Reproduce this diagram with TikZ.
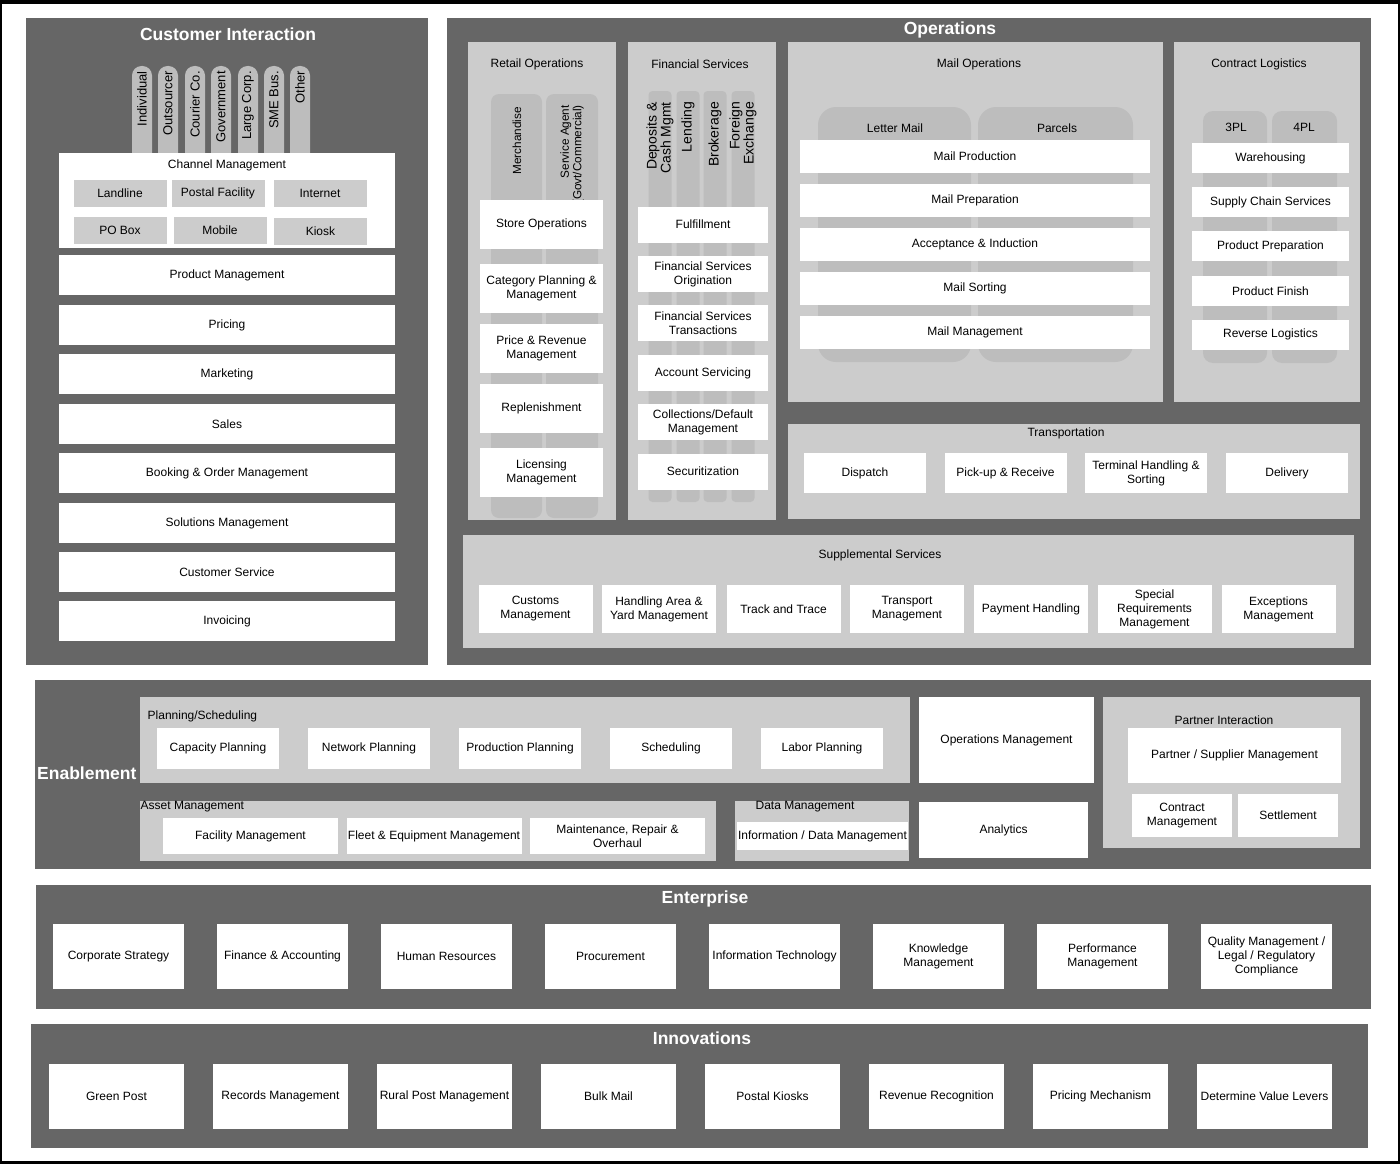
\documentclass[tikz,border=0pt]{standalone}
\usepackage{fontspec}
\setmainfont{Liberation Sans}
\definecolor{panelgray}{HTML}{666666}
\definecolor{subgray}{HTML}{CCCCCC}
\definecolor{lanegray}{HTML}{BDBDBD}
\tikzset{
  panel/.style={fill=panelgray},
  subpanel/.style={fill=subgray},
  lane/.style={fill=lanegray, rounded corners=#1},
  lane/.default=8pt,
  heading/.style={text=white, font=\fontsize{17.5}{20}\selectfont\bfseries, inner sep=0pt},
  lbl/.style={font=\fontsize{12}{14}\selectfont, inner sep=0.5pt},
  tablbl/.style={font=\fontsize{12.5}{13.5}\selectfont, rotate=90, anchor=east, align=right, inner sep=0pt},
  cell/.style 2 args={fill=white, font=\fontsize{12}{14}\selectfont, align=center, inner sep=0.5pt,
      minimum width=#1, minimum height=#2},
  chip/.style={fill=subgray, font=\fontsize{12}{14}\selectfont, minimum width=93pt, minimum height=27pt, inner sep=0pt},
}
\begin{document}
\begin{tikzpicture}[x=1pt, y=-1pt]
  \useasboundingbox (0,0) rectangle (1400,1164);
  \fill[white] (0,0) rectangle (1400,1164);
  \fill[black] (0,0) rectangle (1400,4);
  \fill[black] (0,0) rectangle (2,1164);
  \fill[black] (1397.5,0) rectangle (1400,1164);
  \fill[black] (0,1161) rectangle (1400,1164);

  % customer interaction
  \fill[panel] (26,18) rectangle (428,665);
  \node[heading] (custtitle) at (228,34) {Customer Interaction};
  \foreach \x/\t [count=\i] in {142/Individual, 168/Outsourcer, 195/Courier Co., 221/Government, 248/Large Corp., 274/SME Bus., 300/Other} {
    \fill[lane=9.5pt] (\x-10,66) rectangle (\x+10,170);
    \node[tablbl, font=\fontsize{13}{14}\selectfont] (cust\i) at (\x,71) {\t};
  }
  \fill[white] (59,153) rectangle (395,248);
  \node[lbl] (chan) at (227,165) {Channel Management};
  \foreach \x/\y/\t [count=\i] in {120/193/Landline, 218/193/Postal Facility, 320/193.5/Internet, 120/230/PO Box, 220/230.5/Mobile, 320.5/231/Kiosk}
    \node[chip] (chip\i) at (\x,\y) {\t};
  \foreach \y/\t [count=\i] in {275/Product Management, 325/Pricing, 374/Marketing, 424/Sales, 473/Booking \& Order Management, 523/Solutions Management, 572/Customer Service, 621/Invoicing}
    \node[cell={336pt}{40pt}] (custcell\i) at (227,\y) {\t};

  % operations
  \fill[panel] (447,18) rectangle (1371,665);
  \node[heading] (opstitle) at (950,30) {Operations};

  \fill[subpanel] (468,42) rectangle (616,520);
  \node[lbl] (retail) at (537,64) {Retail Operations};
  \fill[lane] (491,94) rectangle (542,518);
  \fill[lane] (546,94) rectangle (598,518);
  \node[tablbl, font=\fontsize{11.75}{12.5}\selectfont] (merch) at (517,107) {Merchandise};
  \node[tablbl, font=\fontsize{11.75}{12.5}\selectfont] (agent) at (572,105) {Service Agent\\(Govt/Commercial)};
  \foreach \y/\t [count=\i] in {224.5/Store Operations, 288/{Category Planning \&\\Management}, 348.5/{Price \& Revenue\\Management}, 408.5/Replenishment, 472/{Licensing\\Management}}
    \node[cell={123pt}{49pt}] (retail\i) at (541.5,\y) {\t};

  \fill[subpanel] (628,42) rectangle (776,520);
  \node[lbl] (fin) at (700,64) {Financial Services};
  \foreach \x/\t [count=\i] in {660/{Deposits \&\\Cash Mgmt}, 688/Lending, 715/Brokerage, 743/{Foreign\\Exchange}} {
    \fill[lane=4pt] (\x-11.5,91) rectangle (\x+11.5,502);
    \node[tablbl, font=\fontsize{14}{14}\selectfont] (fintab\i) at (\x,102) {\t};
  }
  \foreach \y/\t [count=\i] in {224.5/Fulfillment, 274/{Financial Services\\Origination}, 323/{Financial Services\\Transactions}, 373/Account Servicing, 422/{Collections/Default\\Management}, 471.5/Securitization}
    \node[cell={130pt}{36pt}] (fin\i) at (703,\y) {\t};

  \fill[subpanel] (788,42) rectangle (1163,402);
  \node[lbl] (mail) at (979,64) {Mail Operations};
  \fill[lane=18pt] (818,107) rectangle (971,362);
  \fill[lane=18pt] (978,107) rectangle (1133,362);
  \node[lbl] (letter) at (895,128) {Letter Mail};
  \node[lbl] (parcels) at (1057,128) {Parcels};
  \foreach \y/\t [count=\i] in {156/Mail Production, 200.5/Mail Preparation, 244.5/Acceptance \& Induction, 288.5/Mail Sorting, 332.5/Mail Management}
    \node[cell={350pt}{33pt}] (mail\i) at (975,\y) {\t};

  \fill[subpanel] (1174,42) rectangle (1360,402);
  \node[lbl] (contract) at (1259,64) {Contract Logistics};
  \fill[lane=10pt] (1203,111) rectangle (1267,363);
  \fill[lane=10pt] (1272,111) rectangle (1337,363);
  \node[lbl] (tpl) at (1236,127) {3PL};
  \node[lbl] (fpl) at (1304,127) {4PL};
  \foreach \y/\t [count=\i] in {158/Warehousing, 202/Supply Chain Services, 246/Product Preparation, 291/Product Finish, 334.5/Reverse Logistics}
    \node[cell={157pt}{30pt}] (cl\i) at (1270.5,\y) {\t};

  \fill[subpanel] (788,424) rectangle (1360,519);
  \node[lbl] (transport) at (1066,433) {Transportation};
  \foreach \x/\t [count=\i] in {865/Dispatch, 1005.5/Pick-up \& Receive, 1146/{Terminal Handling \&\\Sorting}, 1287/Delivery}
    \node[cell={122pt}{40pt}] (trans\i) at (\x,473) {\t};

  \fill[subpanel] (463,535) rectangle (1354,648);
  \node[lbl] (supp) at (880,555) {Supplemental Services};
  \foreach \x/\t [count=\i] in {535.5/{Customs\\Management}, 659/{Handling Area \&\\Yard Management}, 783.5/Track and Trace, 907/{Transport\\Management}, 1031/Payment Handling, 1154.5/{Special\\Requirements\\Management}, 1278.5/{Exceptions\\Management}}
    \node[cell={114pt}{48pt}] (supp\i) at (\x,609) {\t};

  % enablement
  \fill[panel] (35,680) rectangle (1371,869);
  \node[heading, anchor=west] (enable) at (37,773) {Enablement};
  \fill[subpanel] (140,697) rectangle (910,783);
  \node[lbl, anchor=west] (plan) at (147,716) {Planning/Scheduling};
  \foreach \x/\t [count=\i] in {218/Capacity Planning, 369/Network Planning, 520/Production Planning, 671/Scheduling, 822/Labor Planning}
    \node[cell={122pt}{41pt}] (plan\i) at (\x,748.5) {\t};
  \node[cell={175pt}{86pt}] (opsmgmt) at (1006.5,740) {Operations Management};
  \node[cell={169pt}{56pt}] (analytics) at (1003.5,830) {Analytics};
  \fill[subpanel] (1103,697) rectangle (1360,848);
  \node[lbl] (partner) at (1224,720) {Partner Interaction};
  \node[cell={213pt}{55pt}] (supplier) at (1234.5,755.5) {Partner / Supplier Management};
  \node[cell={100pt}{43pt}] (contractmgmt) at (1182,815.5) {Contract\\Management};
  \node[cell={100pt}{43pt}] (settle) at (1288,815.5) {Settlement};
  \fill[subpanel] (140,801) rectangle (716,861);
  \node[lbl, anchor=west] (asset) at (140,807) {Asset Management};
  \foreach \x/\t [count=\i] in {250.5/Facility Management, 434/Fleet \& Equipment Management, 617.5/{Maintenance, Repair \&\\Overhaul}}
    \node[cell={175pt}{36pt}] (asset\i) at (\x,836) {\t};
  \fill[subpanel] (735,801) rectangle (909,861);
  \node[lbl] (data) at (805,807) {Data Management};
  \node[cell={171pt}{28pt}] (info) at (822.5,836) {Information / Data Management};

  % enterprise
  \fill[panel] (36,885) rectangle (1371,1009);
  \node[heading] (ent) at (705,899) {Enterprise};
  \foreach \x/\t [count=\i] in {118.5/Corporate Strategy, 282.5/Finance \& Accounting, 446.5/Human Resources, 610.5/Procurement, 774.5/Information Technology, 938.5/{Knowledge\\Management}, 1102.5/{Performance\\Management}, 1266.5/{Quality Management /\\Legal / Regulatory\\Compliance}}
    \node[cell={131pt}{65pt}] (ent\i) at (\x,956.5) {\t};

  % innovations
  \fill[panel] (31,1024) rectangle (1368,1148);
  \node[heading] (innov) at (702,1038) {Innovations};
  \foreach \x/\t [count=\i] in {116.5/Green Post, 280.5/Records Management, 444.5/Rural Post Management, 608.5/Bulk Mail, 772.5/Postal Kiosks, 936.5/Revenue Recognition, 1100.5/Pricing Mechanism, 1264.5/Determine Value Levers}
    \node[cell={135pt}{65pt}] (innov\i) at (\x,1096.5) {\t};
\end{tikzpicture}
\end{document}
